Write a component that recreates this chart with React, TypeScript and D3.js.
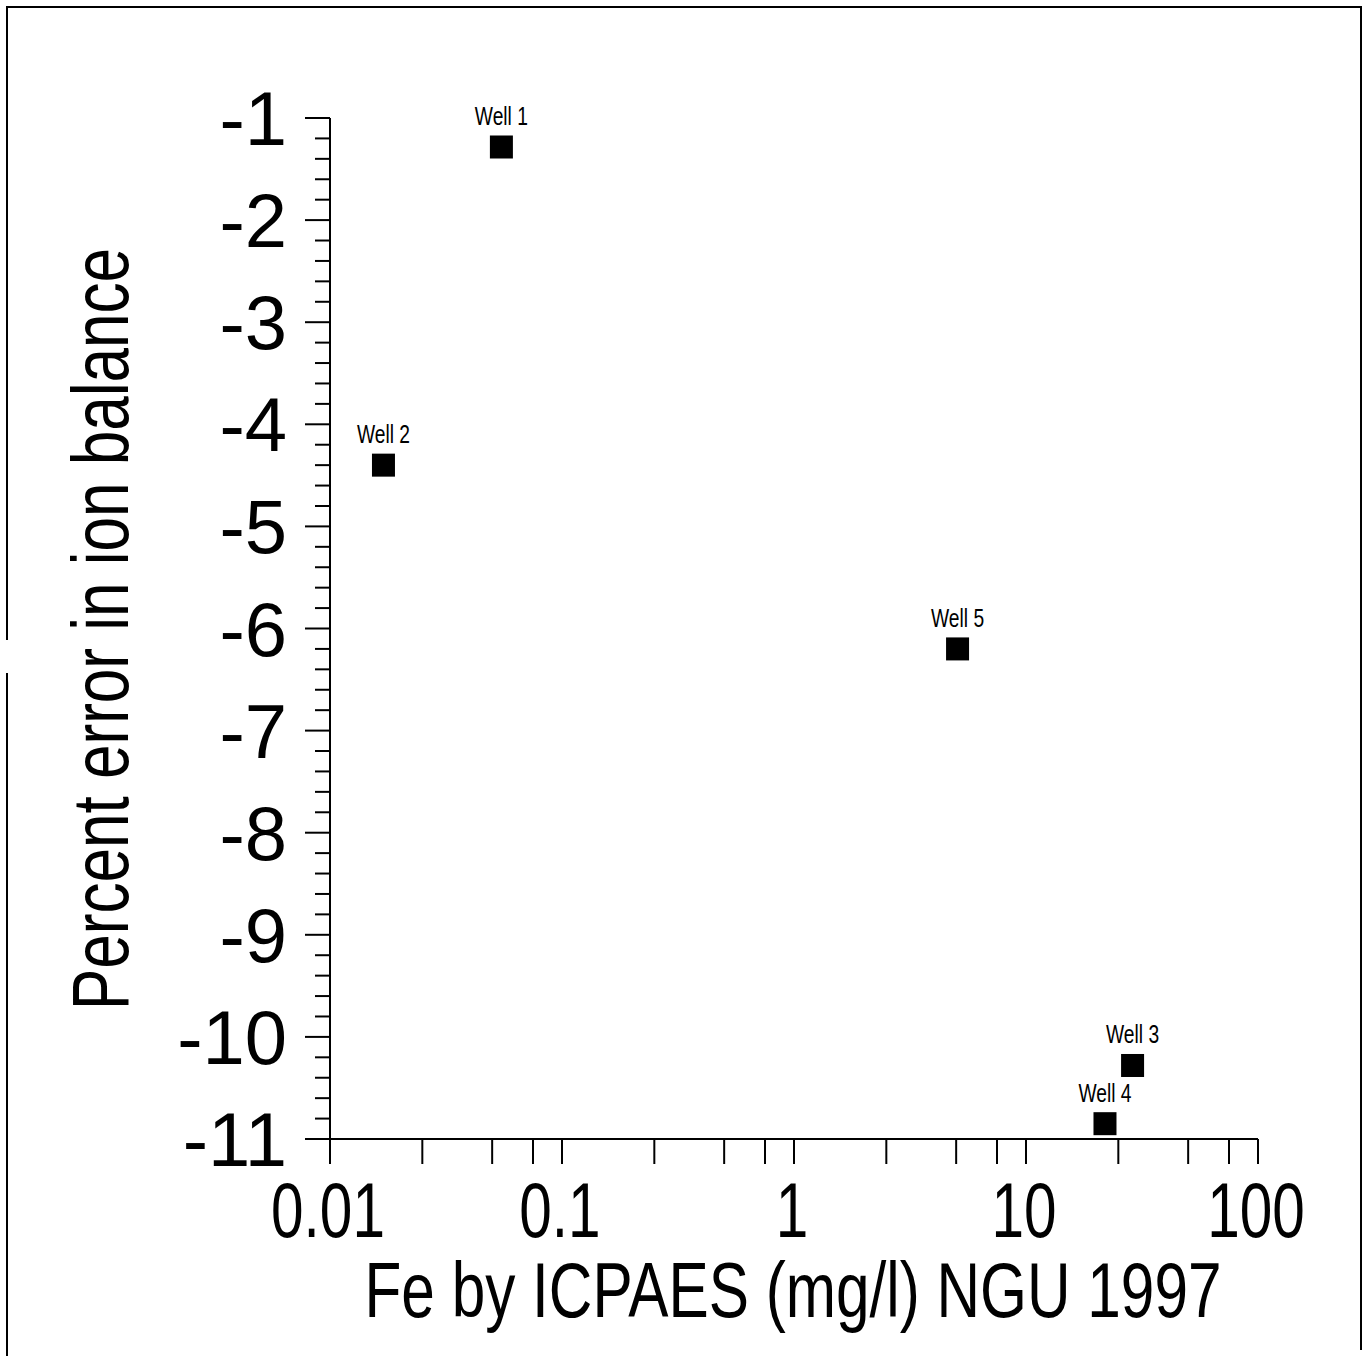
import React, { useEffect, useRef } from 'react';
import * as d3 from 'd3';

const wellNames = ['Well 1', 'Well 2', 'Well 3', 'Well 4', 'Well 5'];
const feValues = [0.0548, 0.017, 28.8, 21.9, 5.07];
const ionErrors = [-1.284, -4.4, -10.28, -10.85, -6.2];
const xTickValues = [0.01, 0.1, 1, 10, 100];
const xTickLabels = ['0.01', '0.1', '1', '10', '100'];
const xMinorMultipliers = [2.5, 5, 7.5];
const yTickValues = [-1, -2, -3, -4, -5, -6, -7, -8, -9, -10, -11];
const yTickLabels = ['-1', '-2', '-3', '-4', '-5', '-6', '-7', '-8', '-9', '-10', '-11'];
const xTitle = 'Fe by ICPAES (mg/l) NGU 1997';
const yTitle = 'Percent error in ion balance';

const W = 1366;
const H = 1356;
const FONT = '"Liberation Sans", Arial, Helvetica, sans-serif';

export default function App() {
  const ref = useRef<SVGSVGElement | null>(null);

  useEffect(() => {
    const svg = d3.select(ref.current);
    svg.selectAll('*').remove();

    const x = d3.scaleLog().domain([0.01, 100]).range([330, 1258]);
    const y = d3.scaleLinear().domain([-11, -1]).range([1139, 118]);

    const compress = (sel: any, factor: number, adjust: string) => {
      sel.each(function (this: SVGTextElement) {
        const w = this.getComputedTextLength();
        this.setAttribute('textLength', String(w * factor));
        this.setAttribute('lengthAdjust', adjust);
      });
    };

    // frame
    const frame = svg.append('g').attr('stroke', '#000').attr('stroke-width', 2).attr('fill', 'none');
    frame.append('path').attr('d', `M7,640 L7,7 L1361,7 L1361,1350`);
    frame.append('path').attr('d', `M7,673 L7,1356`);

    const ax = svg.append('g').attr('stroke', '#000').attr('stroke-width', 2);
    // axis lines
    ax.append('line').attr('x1', x(0.01)).attr('x2', x(100)).attr('y1', y(-11)).attr('y2', y(-11));
    ax.append('line').attr('x1', x(0.01)).attr('x2', x(0.01)).attr('y1', y(-1)).attr('y2', y(-11));

    // y ticks
    ax.selectAll('line.ymaj')
      .data(yTickValues)
      .enter()
      .append('line')
      .attr('class', 'ymaj')
      .attr('x1', x(0.01) - 25)
      .attr('x2', x(0.01))
      .attr('y1', (d) => y(d))
      .attr('y2', (d) => y(d));
    const yMinor: number[] = [];
    for (let i = 0; i < yTickValues.length - 1; i++) {
      for (let k = 1; k < 5; k++) yMinor.push(yTickValues[i] - k * 0.2);
    }
    ax.selectAll('line.ymin')
      .data(yMinor)
      .enter()
      .append('line')
      .attr('class', 'ymin')
      .attr('x1', x(0.01) - 15)
      .attr('x2', x(0.01))
      .attr('y1', (d) => y(d))
      .attr('y2', (d) => y(d));

    // x ticks
    const xAll: number[] = [];
    xTickValues.forEach((v, i) => {
      xAll.push(v);
      if (i < xTickValues.length - 1) xMinorMultipliers.forEach((m) => xAll.push(v * m));
    });
    ax.selectAll('line.xt')
      .data(xAll)
      .enter()
      .append('line')
      .attr('class', 'xt')
      .attr('x1', (d) => x(d))
      .attr('x2', (d) => x(d))
      .attr('y1', y(-11))
      .attr('y2', y(-11) + 25);

    // y tick labels
    svg.selectAll('text.yl')
      .data(yTickValues)
      .enter()
      .append('text')
      .attr('class', 'yl')
      .attr('x', 287)
      .attr('y', (d) => y(d) + 27)
      .attr('text-anchor', 'end')
      .attr('font-family', FONT)
      .attr('font-size', 76)
      .text((d, i) => yTickLabels[i]);

    // x tick labels
    const xl = svg.selectAll('text.xl')
      .data(xTickValues)
      .enter()
      .append('text')
      .attr('class', 'xl')
      .attr('x', (d) => x(d) - 2)
      .attr('y', 1237)
      .attr('text-anchor', 'middle')
      .attr('font-family', FONT)
      .attr('font-size', 77)
      .text((d, i) => xTickLabels[i]);
    compress(xl, 0.76, 'spacingAndGlyphs');

    // titles
    svg.append('text')
      .attr('x', 793)
      .attr('y', 1317)
      .attr('text-anchor', 'middle')
      .attr('font-family', FONT)
      .attr('font-size', 77)
      .attr('textLength', 857)
      .attr('lengthAdjust', 'spacingAndGlyphs')
      .text(xTitle);

    svg.append('text')
      .attr('transform', `translate(128,629) rotate(-90)`)
      .attr('text-anchor', 'middle')
      .attr('font-family', FONT)
      .attr('font-size', 79)
      .attr('textLength', 762)
      .attr('lengthAdjust', 'spacingAndGlyphs')
      .text(yTitle);

    // points
    const s = 23;
    svg.selectAll('rect.pt')
      .data(wellNames)
      .enter()
      .append('rect')
      .attr('class', 'pt')
      .attr('x', (d, i) => x(feValues[i]) - s / 2)
      .attr('y', (d, i) => y(ionErrors[i]) - s / 2)
      .attr('width', s)
      .attr('height', s)
      .attr('fill', '#000');

    const wl = svg.selectAll('text.wl')
      .data(wellNames)
      .enter()
      .append('text')
      .attr('class', 'wl')
      .attr('x', (d, i) => x(feValues[i]))
      .attr('y', (d, i) => y(ionErrors[i]) - 22)
      .attr('text-anchor', 'middle')
      .attr('font-family', FONT)
      .attr('font-size', 25)
      .text((d) => d);
    compress(wl, 0.77, 'spacingAndGlyphs');
  }, []);

  return (
    <svg
      ref={ref}
      width={W}
      height={H}
      style={{ position: 'absolute', left: 0, top: 0, background: '#fff' }}
    />
  );
}
